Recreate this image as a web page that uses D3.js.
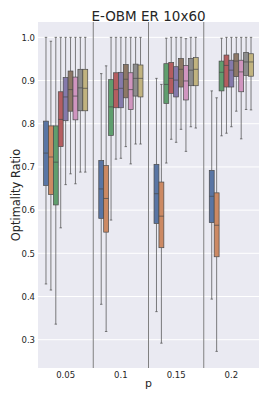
<!DOCTYPE html>
<html>
<head>
<meta charset="utf-8">
<script src="https://cdn.jsdelivr.net/npm/d3@7"></script>
<style>
  body { margin: 0; background: #fff; }
  text { font-family: "DejaVu Sans", sans-serif; fill: #262626; }
</style>
</head>
<body>
<svg width="270" height="400"></svg>
<script>
// x categories
var categories = ["0.05", "0.1", "0.15", "0.2"];
// seaborn deep palette, one colour per hue series
var palette = ["#4C72B0", "#DD8452", "#55A868", "#C44E52", "#8172B3", "#937860", "#DA8BC3", "#8C8C8C", "#CCB974"];
var yTicks = [0.3, 0.4, 0.5, 0.6, 0.7, 0.8, 0.9, 1.0];

// box stats per hue: [lower whisker, q1, median, q3, upper whisker]
var p005 = [
  [0.429, 0.657, 0.732, 0.806, 1.0],
  [0.415, 0.636, 0.723, 0.795, 0.991],
  [0.336, 0.612, 0.711, 0.795, 1.0],
  [0.559, 0.747, 0.810, 0.874, 1.0],
  [0.659, 0.807, 0.862, 0.907, 1.0],
  [0.684, 0.829, 0.879, 0.922, 1.0],
  [0.661, 0.809, 0.864, 0.908, 1.0],
  [0.688, 0.830, 0.883, 0.926, 1.0],
  [0.688, 0.830, 0.882, 0.926, 1.0]
];
var p01 = [
  [0.382, 0.581, 0.649, 0.715, 0.916],
  [0.319, 0.549, 0.627, 0.703, 0.934],
  [0.577, 0.773, 0.839, 0.902, 1.0],
  [0.718, 0.837, 0.879, 0.918, 1.0],
  [0.720, 0.837, 0.882, 0.919, 1.0],
  [0.747, 0.860, 0.903, 0.937, 1.0],
  [0.707, 0.833, 0.879, 0.918, 1.0],
  [0.753, 0.864, 0.905, 0.938, 1.0],
  [0.753, 0.862, 0.905, 0.936, 1.0]
];
var p015 = [
  [0.365, 0.569, 0.638, 0.706, 0.905],
  [0.292, 0.513, 0.586, 0.665, 0.891],
  [0.709, 0.847, 0.891, 0.939, 0.998],
  [0.764, 0.870, 0.905, 0.942, 1.0],
  [0.757, 0.862, 0.901, 0.932, 1.0],
  [0.787, 0.885, 0.926, 0.951, 1.0],
  [0.736, 0.855, 0.899, 0.935, 0.997],
  [0.793, 0.888, 0.924, 0.951, 1.0],
  [0.790, 0.888, 0.926, 0.953, 1.0]
];
var p02 = [
  [0.394, 0.571, 0.632, 0.692, 0.876],
  [0.273, 0.492, 0.565, 0.640, 0.860],
  [0.772, 0.876, 0.919, 0.945, 0.998],
  [0.778, 0.885, 0.935, 0.959, 1.0],
  [0.793, 0.885, 0.924, 0.947, 1.0],
  [0.829, 0.909, 0.945, 0.962, 1.0],
  [0.765, 0.874, 0.920, 0.947, 1.0],
  [0.833, 0.912, 0.943, 0.965, 1.0],
  [0.832, 0.910, 0.943, 0.962, 1.0]
];
var groups = [p005, p01, p015, p02];

var margin = {left: 38, right: 11, top: 22, bottom: 32};
var width = 270, height = 400;

var svg = d3.select("svg");

var x = d3.scaleBand()
  .domain(categories)
  .range([margin.left, width - margin.right])
  .padding(0);

var hues = d3.range(palette.length);
var xh = d3.scaleBand()
  .domain(hues)
  .range([x.bandwidth() * 0.1, x.bandwidth() * 0.9])
  .padding(0);

var y = d3.scaleLinear()
  .domain([0.2345, 1.0355])
  .range([height - margin.bottom, margin.top]);

// background
svg.append("rect")
  .attr("x", margin.left).attr("y", margin.top)
  .attr("width", width - margin.right - margin.left)
  .attr("height", height - margin.bottom - margin.top)
  .attr("fill", "#EAEAF2");

// grid
svg.append("g").selectAll("line").data(yTicks).join("line")
  .attr("x1", margin.left).attr("x2", width - margin.right)
  .attr("y1", d => y(d)).attr("y2", d => y(d))
  .attr("stroke", "#fff").attr("stroke-width", 1);

var fills = palette.map(function(c) {
  var h = d3.hsl(c);
  h.s *= 0.75;
  return h.formatHex();
});
var gray = "#494949";

// separators between groups
svg.append("g").selectAll("line").data(categories.slice(1)).join("line")
  .attr("x1", d => x(d)).attr("x2", d => x(d))
  .attr("y1", margin.top).attr("y2", height - margin.bottom)
  .attr("stroke", "#808080").attr("stroke-width", 1);

groups.forEach(function(stats, gi) {
  var g = svg.append("g").attr("transform", "translate(" + x(categories[gi]) + ",0)");
  stats.forEach(function(s, hi) {
    var bw = xh.bandwidth();
    var cx = xh(hi) + bw / 2;
    var b = g.append("g");
    // whiskers
    b.append("line").attr("x1", cx).attr("x2", cx)
      .attr("y1", y(s[0])).attr("y2", y(s[1]))
      .attr("stroke", gray).attr("stroke-width", 0.7);
    b.append("line").attr("x1", cx).attr("x2", cx)
      .attr("y1", y(s[3])).attr("y2", y(s[4]))
      .attr("stroke", gray).attr("stroke-width", 0.7);
    // caps
    [s[0], s[4]].forEach(function(v) {
      b.append("line").attr("x1", cx - bw * 0.25).attr("x2", cx + bw * 0.25)
        .attr("y1", y(v)).attr("y2", y(v))
        .attr("stroke", gray).attr("stroke-width", 0.7);
    });
    // box
    b.append("rect")
      .attr("x", xh(hi)).attr("width", bw)
      .attr("y", y(s[3])).attr("height", y(s[1]) - y(s[3]))
      .attr("fill", fills[hi]).attr("stroke", gray).attr("stroke-width", 0.7);
    // median
    b.append("line").attr("x1", xh(hi)).attr("x2", xh(hi) + bw)
      .attr("y1", y(s[2])).attr("y2", y(s[2]))
      .attr("stroke", gray).attr("stroke-width", 0.7);
  });
});

// axes
var yAxis = svg.append("g")
  .attr("transform", "translate(" + margin.left + ",0)")
  .call(d3.axisLeft(y).tickValues(yTicks).tickFormat(d3.format(".1f")).tickSize(0).tickPadding(3));
yAxis.select(".domain").remove();
yAxis.selectAll("text").attr("font-size", 8.5).style("font-family", "DejaVu Sans");

var xAxis = svg.append("g")
  .attr("transform", "translate(0," + (height - margin.bottom) + ")")
  .call(d3.axisBottom(x).tickSize(0).tickPadding(3.5));
xAxis.select(".domain").remove();
xAxis.selectAll("text").attr("font-size", 8.5).style("font-family", "DejaVu Sans");

svg.append("text")
  .attr("x", (margin.left + width - margin.right) / 2).attr("y", 21)
  .attr("text-anchor", "middle").attr("font-size", 13.5)
  .text("E-OBM ER 10x60");

svg.append("text")
  .attr("x", (margin.left + width - margin.right) / 2).attr("y", 386.5)
  .attr("text-anchor", "middle").attr("font-size", 11)
  .text("p");

svg.append("text")
  .attr("transform", "translate(20," + ((margin.top + height - margin.bottom) / 2) + ") rotate(-90)")
  .attr("text-anchor", "middle").attr("font-size", 11.4)
  .text("Optimality Ratio");
</script>
</body>
</html>
